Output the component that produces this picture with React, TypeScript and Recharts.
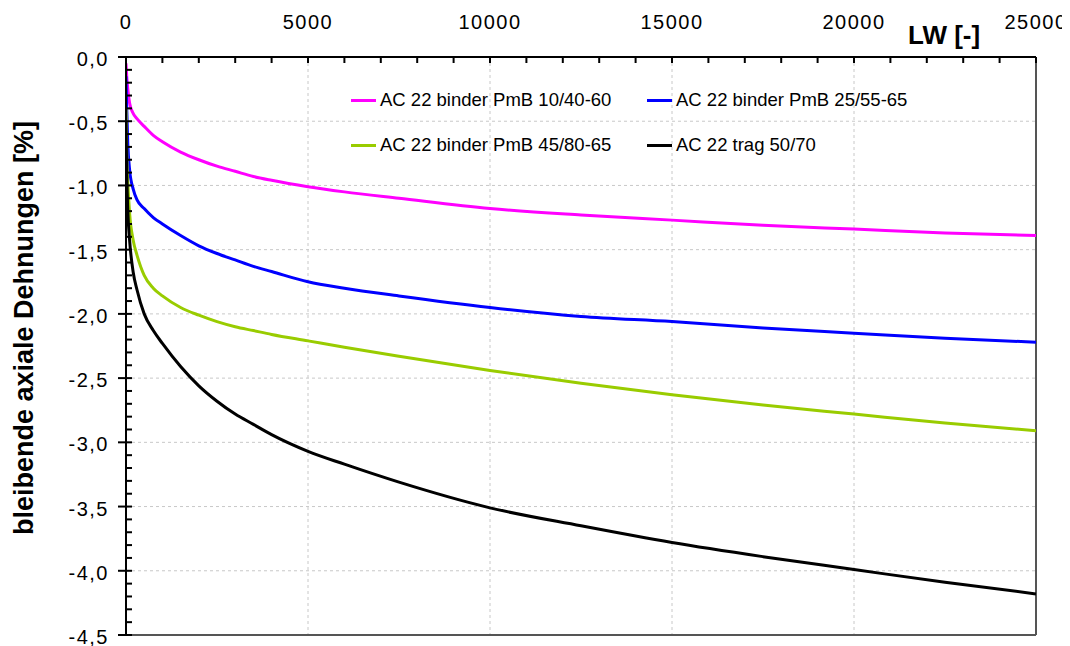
import React from 'react';
import { LineChart, Line, XAxis, YAxis, CartesianGrid, ReferenceLine } from 'recharts';

// Lastwechsel (LW) sample points
const lw = [0, 20, 50, 100, 200, 300, 500, 750, 1000, 1500, 2000, 2500, 3000, 3500, 4000, 5000, 6000, 7500, 10000, 12500, 15000, 17500, 20000, 22500, 25000];

const pmb1040 = [-0.05, -0.15, -0.25, -0.36, -0.44, -0.48, -0.54, -0.61, -0.66, -0.74, -0.80, -0.85, -0.89, -0.93, -0.96, -1.01, -1.05, -1.10, -1.18, -1.23, -1.27, -1.31, -1.34, -1.37, -1.39];
const pmb2555 = [-0.15, -0.40, -0.68, -0.88, -1.03, -1.11, -1.18, -1.25, -1.30, -1.39, -1.47, -1.53, -1.58, -1.63, -1.67, -1.75, -1.80, -1.86, -1.95, -2.02, -2.06, -2.11, -2.15, -2.19, -2.22];
const pmb4580 = [-0.40, -0.75, -0.98, -1.22, -1.43, -1.54, -1.70, -1.80, -1.86, -1.95, -2.01, -2.06, -2.10, -2.13, -2.16, -2.21, -2.26, -2.33, -2.44, -2.54, -2.63, -2.71, -2.78, -2.85, -2.91];
const trag5070 = [-0.50, -0.90, -1.20, -1.43, -1.68, -1.81, -2.00, -2.13, -2.23, -2.41, -2.56, -2.68, -2.78, -2.86, -2.94, -3.07, -3.17, -3.31, -3.51, -3.65, -3.78, -3.89, -3.99, -4.09, -4.18];

const series = [
  { key: 'a', name: 'AC 22 binder PmB 10/40-60', color: '#ff00ff', values: pmb1040 },
  { key: 'b', name: 'AC 22 binder PmB 25/55-65', color: '#0000ff', values: pmb2555 },
  { key: 'c', name: 'AC 22 binder PmB 45/80-65', color: '#99cc00', values: pmb4580 },
  { key: 'd', name: 'AC 22 trag 50/70', color: '#000000', values: trag5070 },
];

const xMajor = [0, 5000, 10000, 15000, 20000, 25000];
const yMajor = [0, -0.5, -1, -1.5, -2, -2.5, -3, -3.5, -4, -4.5];
const xTicks = Array.from({ length: 26 }, (_, i) => i * 1000);
const yTicks = Array.from({ length: 46 }, (_, i) => -i / 10);

const data = lw.map((x, i) => {
  const row: any = { lw: x };
  series.forEach((s) => { row[s.key] = s.values[i]; });
  return row;
});

const font = '"Liberation Sans", Arial, sans-serif';

const XTick = (props: any) => {
  const { x, y, payload } = props;
  const v = payload.value;
  const major = xMajor.includes(v);
  return (
    <g>
      <line x1={x} y1={y} x2={x} y2={y + 6} stroke="#000" strokeWidth={2} />
      {major && (
        <text x={x} y={y - 28} textAnchor="middle" fontFamily={font} fontSize={20} letterSpacing={1.5} fill="#000">
          {v}
        </text>
      )}
    </g>
  );
};

const YTick = (props: any) => {
  const { x, y, payload } = props;
  const v = payload.value;
  const major = yMajor.some((m) => Math.abs(m - v) < 1e-6);
  return (
    <g>
      <line x1={major ? x - 8 : x} y1={y} x2={x + 6} y2={y} stroke="#000" strokeWidth={2} />
      {major && (
        <text x={x - 17} y={y + 2} textAnchor="end" dominantBaseline="central" fontFamily={font} fontSize={20} letterSpacing={1.5} fill="#000">
          {v.toFixed(1).replace('.', ',')}
        </text>
      )}
    </g>
  );
};

const LegendBox = () => (
  <div style={{ position: 'absolute', left: 343, top: 79, display: 'grid', gridTemplateColumns: '296px 296px', rowGap: 19, fontFamily: font, fontSize: 18.5 }}>
    {series.map((s) => (
      <div key={s.key} style={{ display: 'flex', alignItems: 'center', height: 26 }}>
        <span style={{ display: 'inline-block', width: 25, height: 3, background: s.color, marginRight: 4 }} />
        <span style={{ color: '#000' }}>{s.name}</span>
      </div>
    ))}
  </div>
);

export default function App() {
  return (
    <div style={{ position: 'relative', width: 1062, height: 638 }}>
      <LineChart width={1062} height={638} data={data} margin={{ top: 19, right: 34, bottom: 11, left: 38 }}>
        <CartesianGrid
          stroke="#c8c8c8"
          strokeDasharray="3 3"
          horizontalValues={[-0.5, -1, -1.5, -2, -2.5, -3, -3.5, -4]}
          verticalValues={[5000, 10000, 15000, 20000]}
        />
        <XAxis
          type="number"
          dataKey="lw"
          orientation="top"
          domain={[0, 25000]}
          ticks={xTicks}
          interval={0}
          height={30}
          tickSize={0}
          tickMargin={0}
          tickLine={false}
          axisLine={{ stroke: '#000', strokeWidth: 2 }}
          tick={<XTick />}
          allowDataOverflow
          label={(p: any) => {
            const vb = p.viewBox;
            return (
              <text x={vb.x + vb.width - 128} y={35.5} fontFamily={font} fontSize={26} fontWeight="bold" fill="#000">
                LW [-]
              </text>
            );
          }}
        />
        <YAxis
          type="number"
          domain={[-4.5, 0]}
          ticks={yTicks}
          interval={0}
          width={80}
          tickSize={0}
          tickMargin={0}
          tickLine={false}
          axisLine={{ stroke: '#000', strokeWidth: 2 }}
          tick={<YTick />}
          allowDataOverflow
          label={(p: any) => {
            const vb = p.viewBox;
            const cx = vb.x - 13;
            const cy = vb.y + vb.height / 2 - 18;
            return (
              <text x={cx} y={cy} transform={`rotate(-90, ${cx}, ${cy})`} textAnchor="middle" fontFamily={font} fontSize={27} fontWeight="bold" fill="#000">
                bleibende axiale Dehnungen [%]
              </text>
            );
          }}
        />
        <ReferenceLine x={25000} stroke="#555" strokeWidth={2} />
        <ReferenceLine y={-4.5} stroke="#555" strokeWidth={2} />
        {series.map((s) => (
          <Line
            key={s.key}
            dataKey={s.key}
            name={s.name}
            type="monotone"
            stroke={s.color}
            strokeWidth={3}
            dot={false}
            isAnimationActive={false}
          />
        ))}
      </LineChart>
      <LegendBox />
    </div>
  );
}
